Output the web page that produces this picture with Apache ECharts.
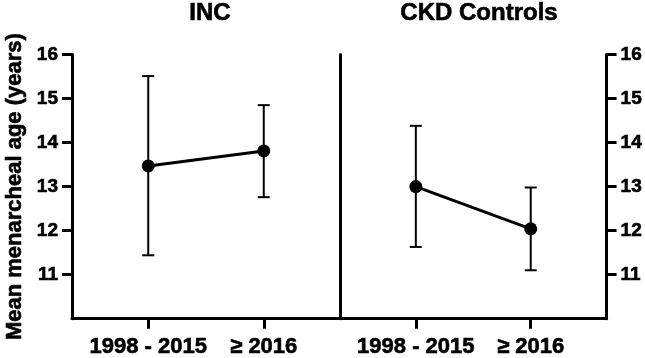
<!DOCTYPE html>
<html>
<head>
<meta charset="utf-8">
<script src="https://cdn.jsdelivr.net/npm/echarts@6/dist/echarts.min.js"></script>
<style>
  html, body { margin: 0; padding: 0; background: #fff; }
  #chart { width: 645px; height: 358px; }
</style>
</head>
<body>
<div id="chart"></div>
<script>
const periods = ['1998 - 2015', '≥ 2016'];
const yTicks = [11, 12, 13, 14, 15, 16];

const incMean = [13.47, 13.81];
const incUpper = [15.51, 14.85];
const incLower = [11.44, 12.76];

const ckdMean = [13.0, 12.04];
const ckdUpper = [14.38, 12.98];
const ckdLower = [11.63, 11.10];

const font = '"Liberation Sans", Arial, sans-serif';
// heavier glyphs, the source figure uses a very bold face
const heavy = { color: '#000', fontFamily: font, fontWeight: 'bold', textBorderColor: '#000', textBorderWidth: 0.6 };
const chart = echarts.init(document.getElementById('chart'));

function errorBars(params, api) {
  const x = api.value(0);
  const lo = api.coord([x, api.value(1)]);
  const hi = api.coord([x, api.value(2)]);
  const w = 6;
  const style = { stroke: '#000', lineWidth: 2 };
  return {
    type: 'group',
    children: [
      { type: 'line', shape: { x1: lo[0], y1: lo[1], x2: hi[0], y2: hi[1] }, style },
      { type: 'line', shape: { x1: hi[0] - w, y1: hi[1], x2: hi[0] + w, y2: hi[1] }, style },
      { type: 'line', shape: { x1: lo[0] - w, y1: lo[1], x2: lo[0] + w, y2: lo[1] }, style },
    ],
  };
}

function xAxis(gridIndex) {
  return {
    type: 'value',
    gridIndex,
    min: 0.34,
    max: 2.66,
    splitLine: { show: false },
    axisLine: { lineStyle: { color: '#000', width: 3 } },
    axisTick: { customValues: [1, 2], length: 10, lineStyle: { color: '#000', width: 3 } },
    axisLabel: Object.assign({
      customValues: [1, 2],
      formatter: v => periods[Math.round(v) - 1],
      fontSize: 22, margin: 17,
    }, heavy),
  };
}

function yAxis(gridIndex, position, showLabels) {
  return {
    type: 'value',
    gridIndex,
    position,
    min: 10,
    max: 16,
    interval: 1,
    splitLine: { show: false },
    axisLine: { show: true, lineStyle: { color: '#000', width: 3 } },
    axisTick: { show: showLabels, customValues: yTicks, length: 10, lineStyle: { color: '#000', width: 3 } },
    axisLabel: Object.assign({
      show: showLabels,
      customValues: yTicks,
      fontSize: 19, margin: 14,
    }, heavy),
  };
}

const leftY = yAxis(0, 'left', true);
leftY.name = 'Mean menarcheal age (years)';
leftY.nameLocation = 'middle';
leftY.nameGap = 46;
leftY.nameTextStyle = Object.assign({ fontSize: 22 }, heavy);

const option = {
  backgroundColor: '#fff',
  animation: false,
  title: [
    { text: 'INC', left: 205, top: -4, textAlign: 'center',
      textStyle: Object.assign({ fontSize: 24 }, heavy) },
    { text: 'CKD Controls', left: 474, top: -4, textAlign: 'center',
      textStyle: Object.assign({ fontSize: 24 }, heavy) },
  ],
  grid: [
    { left: 72, right: 305, top: 54.5, bottom: 36 },
    { left: 340, right: 36, top: 54.5, bottom: 36 },
  ],
  xAxis: [xAxis(0), xAxis(1)],
  yAxis: [leftY, yAxis(1, 'left', false), yAxis(1, 'right', true)],
  series: [
    {
      type: 'custom', xAxisIndex: 0, yAxisIndex: 0, renderItem: errorBars, z: 1,
      data: periods.map((p, i) => [i + 1, incLower[i], incUpper[i]]),
    },
    {
      type: 'line', xAxisIndex: 0, yAxisIndex: 0, z: 2,
      symbol: 'circle', symbolSize: 13,
      lineStyle: { color: '#000', width: 3 }, itemStyle: { color: '#000' },
      data: incMean.map((v, i) => [i + 1, v]),
    },
    {
      type: 'custom', xAxisIndex: 1, yAxisIndex: 2, renderItem: errorBars, z: 1,
      data: periods.map((p, i) => [i + 1, ckdLower[i], ckdUpper[i]]),
    },
    {
      type: 'line', xAxisIndex: 1, yAxisIndex: 2, z: 2,
      symbol: 'circle', symbolSize: 13,
      lineStyle: { color: '#000', width: 3 }, itemStyle: { color: '#000' },
      data: ckdMean.map((v, i) => [i + 1, v]),
    },
  ],
};

chart.setOption(option);
</script>
</body>
</html>
